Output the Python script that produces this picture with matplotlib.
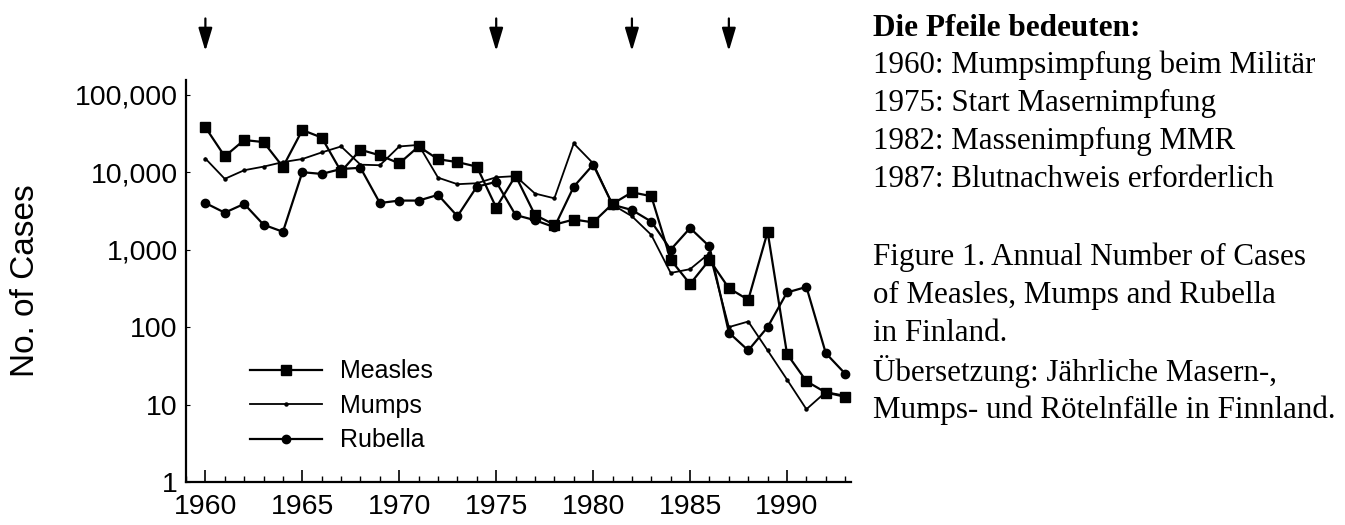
import matplotlib
matplotlib.use("Agg")
import matplotlib.pyplot as plt
from matplotlib.ticker import FixedLocator, MultipleLocator, NullFormatter

# Jahre und Fallzahlen
jahre = list(range(1960, 1994))

masern = [38000, 16000, 26000, 24500, 11700, 35000, 28000, 10200, 19500, 16500,
          13000, 21500, 14700, 13500, 11800, 3500, 9000, 2800, 2100, 2450,
          2250, 3900, 5500, 4900, 740, 360, 740, 318, 225, 1700,
          45, 20, 14.3, 12.6]

mumps = [15000, 8200, 10600, 11800, 13500, 14800, 18000, 21500, 12500, 12300,
         21500, 22500, 8500, 7000, 7200, 8600, 8900, 5300, 4600, 23500,
         13000, 3800, 2700, 1550, 500, 560, 900, 100, 118, 50,
         21, 8.7, 14.5, 13]

roeteln = [4000, 3000, 3900, 2100, 1700, 10000, 9500, 11000, 11400, 4000,
           4300, 4300, 5100, 2700, 6500, 7500, 2800, 2400, 1950, 6500,
           12500, 3800, 3250, 2300, 1000, 1900, 1100, 85, 50, 100,
           280, 330, 46, 25]

pfeil_jahre = [1960, 1975, 1982, 1987]

y_ticks = [1, 10, 100, 1000, 10000, 100000]
y_labels = ['1', '10', '100', '1,000', '10,000', '100,000']
x_ticks = [1960, 1965, 1970, 1975, 1980, 1985, 1990]

erklaerung = ['1960: Mumpsimpfung beim Militär',
              '1975: Start Masernimpfung',
              '1982: Massenimpfung MMR',
              '1987: Blutnachweis erforderlich']
bildunterschrift = ['Figure 1. Annual Number of Cases',
                    'of Measles, Mumps and Rubella',
                    'in Finland.',
                    'Übersetzung: Jährliche Masern-,',
                    'Mumps- und Rötelnfälle in Finnland.']

plt.rcParams['font.family'] = ['Liberation Sans', 'DejaVu Sans']

fig = plt.figure(figsize=(13.45, 5.25), dpi=100)
ax = fig.add_axes([186 / 1345, 43 / 525, 665 / 1345, 402 / 525])

ax.plot(jahre, masern, color='black', lw=1.6, marker='s', ms=7.5, label='Measles')
ax.plot(jahre, mumps, color='black', lw=1.3, marker='o', ms=2.2, label='Mumps')
ax.plot(jahre, roeteln, color='black', lw=1.6, marker='o', ms=6, label='Rubella')

ax.set_yscale('log')
ax.set_ylim(1, 155000)
ax.set_xlim(1959, 1993.3)

ax.yaxis.set_major_locator(FixedLocator(y_ticks))
ax.set_yticklabels(y_labels)
ax.yaxis.set_minor_formatter(NullFormatter())
ax.tick_params(axis='y', which='minor', length=0)
ax.tick_params(axis='y', which='major', direction='in', length=3, labelsize=20.5, pad=6)

ax.xaxis.set_major_locator(FixedLocator(x_ticks))
ax.xaxis.set_minor_locator(MultipleLocator(1))
ax.tick_params(axis='x', which='major', direction='in', length=9, width=1.2, labelsize=20.5, pad=9)
ax.tick_params(axis='x', which='minor', direction='in', length=4, width=1.0)

for s in ['top', 'right']:
    ax.spines[s].set_visible(False)
for s in ['left', 'bottom']:
    ax.spines[s].set_linewidth(1.6)

ax.set_ylabel('No. of Cases', fontsize=24, labelpad=24)

ax.legend(loc='upper left', bbox_to_anchor=(0.096, 0.305), frameon=False,
          fontsize=18, handlelength=2.9, handletextpad=0.7, labelspacing=0.42,
          borderpad=0, borderaxespad=0, numpoints=1)

# Pfeile über der Grafik
for j in pfeil_jahre:
    ax.annotate('', xy=(j, 1.065), xytext=(j, 1.16),
                xycoords=('data', 'axes fraction'), textcoords=('data', 'axes fraction'),
                arrowprops=dict(arrowstyle='-|>,head_length=1.0,head_width=0.3',
                                mutation_scale=14, color='black', lw=1.6),
                annotation_clip=False)

serif = ['Liberation Serif', 'DejaVu Serif']
x_text = 873 / 1345
fig.text(x_text, 1 - 28 / 525, 'Die Pfeile bedeuten:', family=serif, fontsize=22.5,
         fontweight='bold', va='center')
for i, zeile in enumerate(erklaerung):
    fig.text(x_text, 1 - (65 + 38.3 * i) / 525, zeile, family=serif, fontsize=22.3, va='center')
for i, zeile in enumerate(bildunterschrift):
    fig.text(x_text, 1 - (257 + 38.3 * i) / 525, zeile, family=serif, fontsize=22.3, va='center')

fig.savefig('out.png', dpi=100, facecolor='white')
